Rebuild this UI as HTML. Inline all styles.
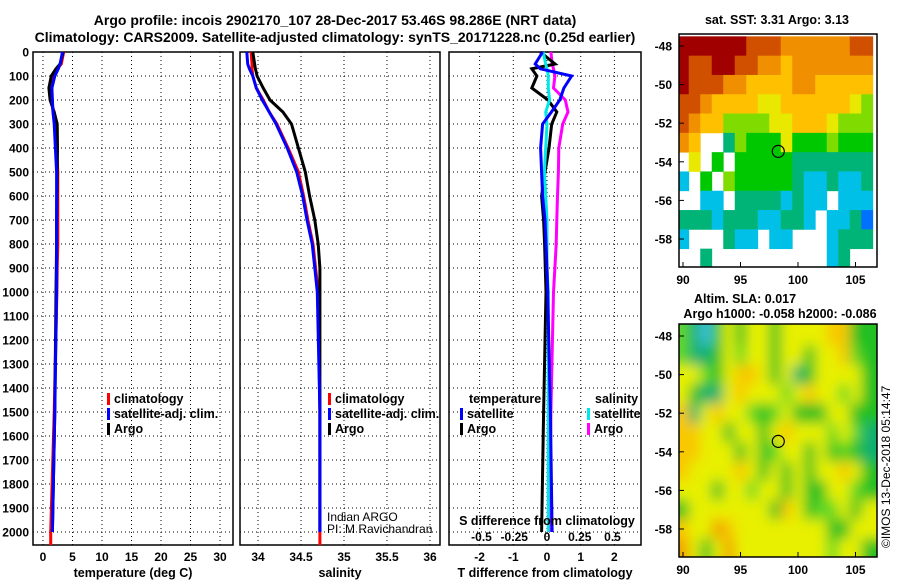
<!DOCTYPE html>
<html><head><meta charset="utf-8"><style>
html,body{margin:0;padding:0;background:#fff;}
svg{display:block;font-family:"Liberation Sans",sans-serif;}
.b{font-weight:bold;}
</style></head><body>
<svg id="s" width="900" height="580" viewBox="0 0 900 580">
<defs><filter id="blur" x="-10%" y="-10%" width="120%" height="120%"><feGaussianBlur stdDeviation="6.5"/></filter>
<clipPath id="c1"><rect x="679" y="34" width="198" height="233"/></clipPath>
<clipPath id="c2"><rect x="679" y="324" width="198" height="233"/></clipPath></defs>
<text x="335" y="25" text-anchor="middle" class="b" font-size="14">Argo profile: incois 2902170_107 28-Dec-2017 53.46S 98.286E (NRT data)</text>
<text x="335" y="42" text-anchor="middle" class="b" font-size="14">Climatology: CARS2009. Satellite-adjusted climatology: synTS_20171228.nc (0.25d earlier)</text>
<g id="g"></g>
</svg>
<script>
// depth levels (m)
const depths=[0,50,70,100,150,200,250,300,400,500,600,700,800,900,1000,1500,2000];
const tempArgo=[3.4,2.9,2.2,1.4,1.0,1.2,1.9,2.4,2.45,2.4,2.35,2.3,2.3,2.25,2.2,2.0,1.6];
const tempClim=[3.5,3.1,2.4,1.7,1.5,1.5,1.7,2.0,2.3,2.5,2.5,2.5,2.5,2.4,2.35,1.9,1.3];
const tempSat=[3.3,2.9,2.6,2.0,1.5,1.6,1.7,1.9,2.1,2.3,2.3,2.3,2.3,2.3,2.3,2.0,1.6];
const salArgo=[33.94,33.96,33.97,33.99,34.06,34.14,34.29,34.39,34.47,34.55,34.60,34.66,34.70,34.72,34.72,34.72,34.72];
const salClim=[33.92,33.93,33.93,33.94,33.98,34.06,34.13,34.22,34.35,34.47,34.53,34.58,34.64,34.67,34.70,34.72,34.72];
const salSat=[33.87,33.88,33.90,33.94,33.98,34.05,34.13,34.21,34.34,34.45,34.52,34.57,34.63,34.66,34.69,34.72,34.72];
const tdiffSat=[-0.13,-0.35,-0.2,0.73,0.5,0.38,0.13,-0.13,-0.19,-0.16,-0.13,-0.06,-0.03,0,0.02,0.1,0.15];
const tdiffArgo=[-0.2,0.24,-0.45,-0.3,-0.45,0.03,0.29,0.14,0.06,-0.06,-0.16,-0.1,-0.07,-0.05,-0.03,-0.1,-0.16];
const sdiffSat=[-0.03,-0.01,0,0.01,0.01,0.02,-0.01,0,-0.01,-0.02,-0.01,0,0,0,0.01,0.01,0.01];
const sdiffArgo=[0.03,0.04,0.05,0.06,0.05,0.14,0.16,0.12,0.09,0.087,0.08,0.075,0.07,0.06,0.05,0.03,0.02];
const depthTicks=[0,100,200,300,400,500,600,700,800,900,1000,1100,1200,1300,1400,1500,1600,1700,1800,1900,2000];
const tempTicks=[0,5,10,15,20,25,30];
const salTicks=[34,34.5,35,35.5,36];
const tdTicks=[-2,-1,0,1,2];
const sdTicks=[-0.5,-0.25,0,0.25,0.5];
const sdTickLabels=['-0.5','-0.25','0','0.25','0.5'];
const mapLons=[90,91,92,93,94,95,96,97,98,99,100,101,102,103,104,105,106];
const mapLats=[-48,-49,-50,-51,-52,-53,-54,-55,-56,-57,-58,-59];
const lonTicks=[90,95,100,105];
const latTicks=[-48,-50,-52,-54,-56,-58];
const sstGrid=["99999988877777788","98899887767777777","98887766667766666","88766665566666654","87664444556665444","76..2433353334333",".5.3.333332222222","1.3.4333332112112","..11.22221211.111","222122211221.1120","1...211.11...1222","..2..........12.."];
const slaGrid=["31025255255556622","31125355255255632","55325665251255552","52115655535655352","61565532352225522","66552552565553531","66555252355252321","65555652525255652","55525535525225532","25555555265233525","65576555555552255","75257555555553552"];
const sstPalette=['#0070ff','#00c0e8','#00b478','#00c800','#80dc00','#e8e800','#ffc000','#f09000','#d05000','#a00000'];
const slaPalette=['#40c0e0','#10b070','#20c020','#60d820','#a0e000','#e8f000','#f8c800','#f0a000'];
const argoLon=98.286, argoLat=-53.46;

const NS='http://www.w3.org/2000/svg';
const G=document.getElementById('g');
function mk(tag,attrs,parent){const e=document.createElementNS(NS,tag);for(const k in attrs)e.setAttribute(k,attrs[k]);(parent||G).appendChild(e);return e;}
const yTop=52, yPer=0.24, yBot=545;
const yD=d=>yTop+d*yPer;
const panels=[
 {x0:33,x1:233,f:v=>43+v*5.9,ticks:tempTicks,labels:tempTicks.map(String),title:'temperature (deg C)',name:'temperature'},
 {x0:240,x1:440,f:v=>258+(v-34)*86,ticks:salTicks,labels:salTicks.map(String),title:'salinity',name:'salinity'},
 {x0:449,x1:641,f:v=>547+v*33.7,ticks:tdTicks,labels:tdTicks.map(String),title:'T difference from climatology',name:'difference'}];
const sdX=v=>547+v*131;
panels.forEach((p,pi)=>{
  const g=mk('g',{});
  
  
  depthTicks.forEach(d=>{mk('line',{x1:p.x0,x2:p.x1,y1:yD(d),y2:yD(d),stroke:'#000','stroke-width':1,'stroke-dasharray':'1,3'},g);});
  p.ticks.forEach((t,i)=>{const x=p.f(t);mk('line',{x1:x,x2:x,y1:yTop,y2:yBot,stroke:'#000','stroke-width':1,'stroke-dasharray':'1,3'},g);
    const tx=mk('text',{x:x,y:561,'text-anchor':'middle','font-size':12,'class':'b'},g);tx.textContent=p.labels[i];
    
    });
  mk('rect',{x:p.x0,y:yTop,width:p.x1-p.x0,height:yBot-yTop,fill:'none',stroke:'#000','stroke-width':1.5},g);
  const tt=mk('text',{x:(p.x0+p.x1)/2,y:577,'text-anchor':'middle','font-size':12.5,'class':'b'},g);tt.textContent=p.title;
  
  
});
depthTicks.forEach(d=>{const t=mk('text',{x:29,y:yD(d)+4.5,'text-anchor':'end','font-size':12,'class':'b'});t.textContent=d;
  
  });
function line(vals,fx,color,name,dmax){
  let pts=[];depths.forEach((d,i)=>{pts.push(fx(vals[i]).toFixed(1)+','+yD(d).toFixed(1));});
  if(dmax)pts.push(fx(vals[vals.length-1]).toFixed(1)+','+yD(dmax).toFixed(1));
  const e=mk('polyline',{points:pts.join(' '),fill:'none',stroke:color,'stroke-width':3,'stroke-linejoin':'miter'});
  
  
}
line(tempClim,panels[0].f,'#ff0000','temp-climatology-line',2054);
line(tempArgo,panels[0].f,'#000','temp-argo-line');
line(tempSat,panels[0].f,'#0000ff','temp-satellite-line');
line(salClim,panels[1].f,'#ff0000','sal-climatology-line',2054);
line(salArgo,panels[1].f,'#000','sal-argo-line');
line(salSat,panels[1].f,'#0000ff','sal-satellite-line');
line(sdiffArgo,sdX,'#ff00ff','sdiff-argo-line');
line(tdiffArgo,panels[2].f,'#000','tdiff-argo-line');
line(sdiffSat,sdX,'#00e8e8','sdiff-satellite-line');
line(tdiffSat,panels[2].f,'#0000ff','tdiff-satellite-line');
// S diff axis
mk('text',{x:547,y:525,'text-anchor':'middle','font-size':12.5,'class':'b'}).textContent='S difference from climatology';
sdTicks.forEach((t,i)=>{const e=mk('text',{x:sdX(t),y:541,'text-anchor':'middle','font-size':12,'class':'b'});e.textContent=sdTickLabels[i];
  
  });
function leg(x,y,color,label,name){const g=mk('g',{});
  if(color)mk('rect',{x:x,y:y-10,width:3,height:12,fill:color},g);
  const t=mk('text',{x:x+(color?7:0),y:y,'font-size':12.5,'class':'b'},g);t.textContent=label;}
leg(107,403,'#ff0000','climatology','legend-climatology');
leg(107,418,'#0000ff','satellite-adj. clim.','legend-satellite');
leg(107,433,'#000','Argo','legend-argo');
leg(328,403,'#ff0000','climatology','legend-sal-climatology');
leg(328,418,'#0000ff','satellite-adj. clim.','legend-sal-satellite');
leg(328,433,'#000','Argo','legend-sal-argo');
leg(469,403,null,'temperature','legend-temp-heading');
leg(460,418,'#0000ff','satellite','legend-tdiff-satellite');
leg(460,433,'#000','Argo','legend-tdiff-argo');
leg(595,403,null,'salinity','legend-sal-heading');
leg(587,418,'#00e8e8','satellite','legend-sdiff-satellite');
leg(587,433,'#ff00ff','Argo','legend-sdiff-argo');
const t1=mk('text',{x:327,y:521,'font-size':12});t1.textContent='Indian ARGO';
const t2=mk('text',{x:327,y:533,'font-size':12});t2.textContent='PI: M Ravichandran';
// maps
const lonX=l=>683+(l-90)*11.5;
function drawMap(y0,grid,pal,clip,blur,name,titles){
  const latY=l=>y0+12+(-48-l)*19.3;
  const g=mk('g',{'clip-path':'url(#'+clip+')'});
  
  
  const cg=mk('g',blur?{filter:'url(#blur)'}:{},g);
  mapLats.forEach((la,r)=>mapLons.forEach((lo,c)=>{const ch=grid[r][c];if(ch==='.')return;
    const x0=lonX(lo-0.5),y1=latY(la+0.5);
    const ex=blur?20:0;
    const e=mk('rect',{x:x0-(c===0?ex:0),y:y1-(r===0?ex:0),width:11.9+(c===0||c===16?ex:0),height:19.7+(r===0||r===11?ex:0),fill:pal[+ch]},cg);
    
    }));
  mk('circle',{cx:lonX(argoLon),cy:latY(argoLat),r:6,fill:'none',stroke:'#000','stroke-width':1.2},g);
  mk('rect',{x:679,y:y0,width:198,height:233,fill:'none',stroke:'#000','stroke-width':1.5});
  latTicks.forEach(l=>{const t=mk('text',{x:672,y:latY(l)+4.5,'text-anchor':'end','font-size':12,'class':'b'});t.textContent=l;
    mk('line',{x1:679,x2:684,y1:latY(l),y2:latY(l),stroke:'#000'});});
  lonTicks.forEach(l=>{const t=mk('text',{x:lonX(l),y:y0+250,'text-anchor':'middle','font-size':12,'class':'b'});t.textContent=l;
    mk('line',{x1:lonX(l),x2:lonX(l),y1:y0+233,y2:y0+228,stroke:'#000'});});
  titles.forEach(tt=>{const t=mk('text',{x:tt[0],y:tt[1],'text-anchor':'middle','font-size':12.5,'class':'b'});t.textContent=tt[2];});
}
drawMap(34,sstGrid,sstPalette,'c1',false,'sst-map',[[777,24,'sat. SST: 3.31 Argo: 3.13']]);
drawMap(324,slaGrid,slaPalette,'c2',true,'sla-map',[[745,303,'Altim. SLA: 0.017'],[780,318,'Argo h1000: -0.058 h2000: -0.086']]);
const im=mk('text',{x:0,y:0,'font-size':12,transform:'translate(890,548) rotate(-90)'});im.textContent='©IMOS 13-Dec-2018 05:14:47';


</script>
</body></html>
